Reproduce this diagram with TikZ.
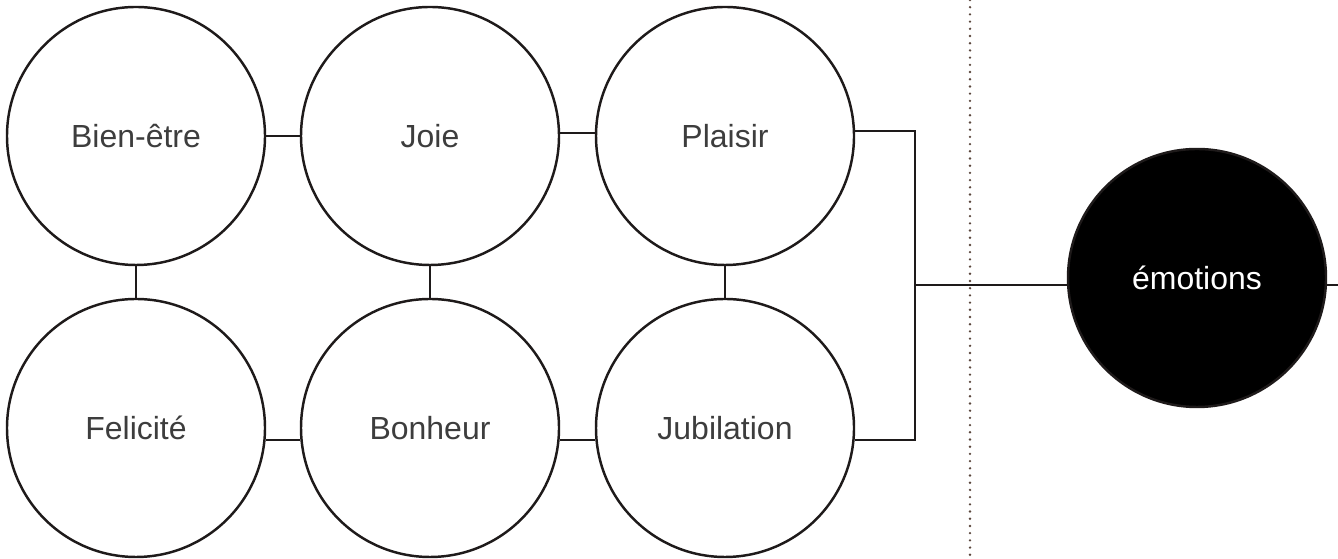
\documentclass[tikz,border=0pt]{standalone}
\usepackage{fontspec}
\setmainfont{Liberation Sans}
\usetikzlibrary{positioning,calc}
\definecolor{txtgray}{HTML}{3D3D3D}
\definecolor{dotbrown}{HTML}{5A463C}
\definecolor{linegray}{HTML}{1E1A1A}

\begin{document}
\begin{tikzpicture}[
  font=\fontsize{18.2}{22}\selectfont,
  line width=1.4pt,
  draw=linegray,
  feeling/.style={circle, draw=linegray, minimum size=5.16cm, inner sep=0pt, text=txtgray, line width=1.4pt},
  core/.style={feeling, fill=black, text=white},
  divider/.style={dotbrown, line width=1.5pt, line cap=round, dash pattern=on 0pt off 4.1pt}
]
\useasboundingbox (0,0) rectangle (26.76,11.18);

% feelings
\node[feeling] (bien) at (2.72,8.46) {Bien-être};
\node[feeling] (joie) at (8.60,8.46) {Joie};
\node[feeling] (plaisir) at (14.50,8.46) {Plaisir};
\node[feeling] (felicite) at (2.72,2.62) {Felicité};
\node[feeling] (bonheur) at (8.60,2.62) {Bonheur};
\node[feeling] (jubilation) at (14.50,2.62) {Jubilation};

\node[core] (emo) at (23.94,5.62) {émotions};

\coordinate (split) at (18.30,5.48);
\coordinate (out) at (26.90,5.48);
\coordinate (divtop) at (19.40,11.18);
\coordinate (divbot) at (19.40,0.08);

\draw[divider] (divtop) -- (divbot);

\draw (bien.east) -- (joie.west);
\draw ($(joie.east)+(0,0.06)$) -- ($(plaisir.west)+(0,0.06)$);
\draw ($(felicite.east)+(0,-0.24)$) -- ($(bonheur.west)+(0,-0.24)$);
\draw ($(bonheur.east)+(0,-0.24)$) -- ($(jubilation.west)+(0,-0.24)$);
\draw (bien.south) -- (felicite.north);
\draw (joie.south) -- (bonheur.north);
\draw (plaisir.south) -- (jubilation.north);

\draw ($(plaisir.east)+(0,0.10)$) -| (split) |- ($(jubilation.east)+(0,-0.24)$);
\draw[line width=1.1pt] (split) -- (split -| emo.west);
\draw[line width=1.1pt] (split -| emo.east) -- (out);

\end{tikzpicture}
\end{document}
